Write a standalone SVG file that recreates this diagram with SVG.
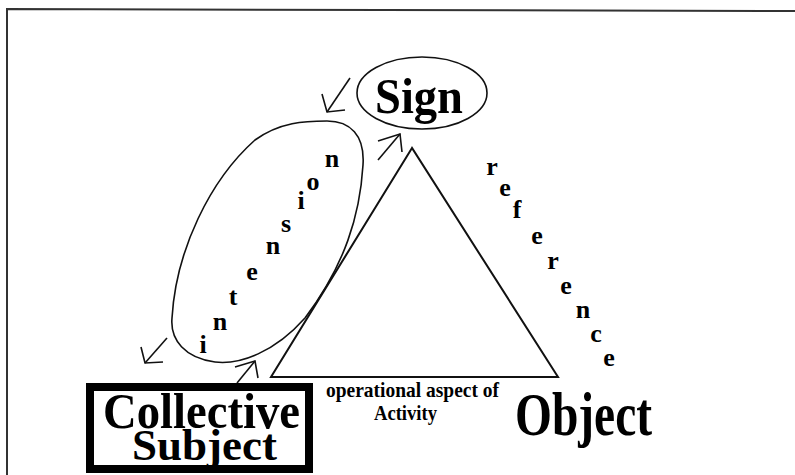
<svg xmlns="http://www.w3.org/2000/svg" width="795" height="475" viewBox="0 0 795 475">
<style>
.ln{fill:none;stroke:#111;stroke-width:1.6;stroke-linejoin:miter}
.tri{fill:none;stroke:#111;stroke-width:2}
.big{font-family:"Liberation Serif","Times New Roman",serif;font-weight:bold;fill:#000}
.let{font-family:"Liberation Serif","Times New Roman",serif;font-weight:bold;font-size:26px;fill:#000;text-anchor:middle}
</style>
<rect width="795" height="475" fill="#fff"/>
<path d="M7,475 L7,9 L795,11" fill="none" stroke="#333" stroke-width="2"/>

<g id="connectors">
  <g id="arrow-to-intension-top">
    <path class="ln" d="M350,78 L327,112"/>
    <path class="ln" d="M322,94 L327,112 L345,110"/>
  </g>
  <g id="arrow-to-sign">
    <path class="ln" d="M378,160 L400,134"/>
    <path class="ln" d="M378,141 L400,134 L402,152"/>
  </g>
  <g id="arrow-to-left">
    <path class="ln" d="M167,338 L145,363"/>
    <path class="ln" d="M141,347 L145,363 L163,362"/>
  </g>
  <g id="arrow-from-subject">
    <path class="ln" d="M237,383 L255,361"/>
    <path class="ln" d="M235,367 L255,361 L258,378"/>
  </g>
</g>

<g id="intension">
  <path class="ln" d="M327,121 C350,121 365,135 363,165 C360,215 345,265 305,318 C275,352 240,365 215,362 C185,358 170,340 172,318 C176,250 210,180 255,140 C280,122 305,121 327,121 Z"/>
  <text class="let" x="203" y="353">i</text>
  <text class="let" x="220" y="330">n</text>
  <text class="let" x="233" y="305">t</text>
  <text class="let" x="252" y="280">e</text>
  <text class="let" x="273" y="254">n</text>
  <text class="let" x="286" y="232">s</text>
  <text class="let" x="301" y="209">i</text>
  <text class="let" x="313" y="190">o</text>
  <text class="let" x="332" y="167">n</text>
</g>

<g id="triangle">
  <path class="tri" d="M412,148 L271,377 L558,377 Z"/>
</g>

<g id="reference">
  <text class="let" x="492" y="175">r</text>
  <text class="let" x="505" y="196">e</text>
  <text class="let" x="517" y="218">f</text>
  <text class="let" x="537" y="244">e</text>
  <text class="let" x="553" y="269">r</text>
  <text class="let" x="566" y="294">e</text>
  <text class="let" x="583" y="318">n</text>
  <text class="let" x="596" y="342">c</text>
  <text class="let" x="609" y="366">e</text>
</g>

<g id="sign">
  <ellipse class="ln" cx="422" cy="93" rx="65" ry="36"/>
  <text class="big" x="375" y="113" font-size="50" textLength="88" lengthAdjust="spacingAndGlyphs">Sign</text>
</g>

<g id="collective-subject">
  <rect x="90" y="387" width="219" height="82" fill="#fff" stroke="#000" stroke-width="8"/>
  <text class="big" x="103" y="428" font-size="51" textLength="197" lengthAdjust="spacingAndGlyphs">Collective</text>
  <text class="big" x="132" y="460" font-size="45" textLength="145" lengthAdjust="spacingAndGlyphs">Subject</text>
</g>

<g id="operational">
  <text class="big" x="326" y="397" font-size="21" textLength="173" lengthAdjust="spacingAndGlyphs">operational aspect of</text>
  <text class="big" x="374" y="420" font-size="21" textLength="63" lengthAdjust="spacingAndGlyphs">Activity</text>
</g>

<g id="object">
  <text class="big" x="515" y="435" font-size="62" textLength="137" lengthAdjust="spacingAndGlyphs">Object</text>
</g>
</svg>
